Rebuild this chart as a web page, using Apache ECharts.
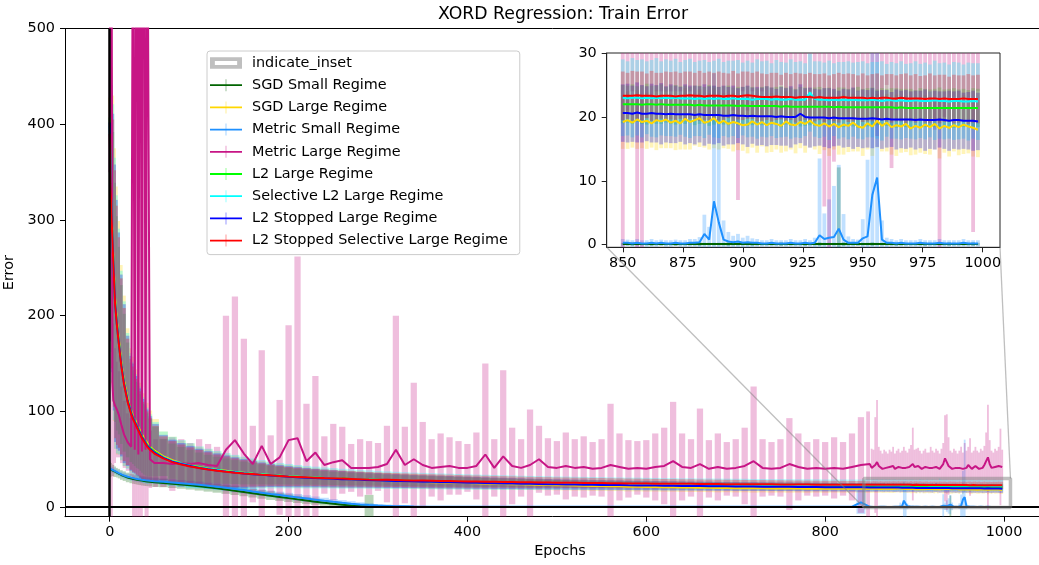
<!DOCTYPE html>
<html>
<head>
<meta charset="utf-8">
<title>XORD Regression: Train Error</title>
<script src="https://cdn.jsdelivr.net/npm/echarts@6/dist/echarts.min.js"></script>
<style>
  html, body { margin: 0; padding: 0; background: #fff; }
  #chart { width: 1039px; height: 565px; }
</style>
</head>
<body>
<div id="chart"></div>
<script>
const FONT = 'DejaVu Sans';

// ---------- x positions (epochs) ----------
const coarseEpochs = [0, 1, 2, 3, 4, 6, 8, 10, 13, 16, 20, 24, 26, 28, 30, 32, 34, 36, 38, 40, 42, 45, 50,
  60, 70, 80, 90, 100, 110, 120, 130, 140, 150,
  160, 170, 180, 190, 200, 210, 220, 230, 240, 250,
  260, 270, 280, 290, 300, 310, 320, 330, 340, 350,
  360, 370, 380, 390, 400, 410, 420, 430, 440, 450,
  460, 470, 480, 490, 500, 510, 520, 530, 540, 550,
  560, 570, 580, 590, 600, 610, 620, 630, 640, 650,
  660, 670, 680, 690, 700, 710, 720, 730, 740, 750,
  760, 770, 780, 790, 800, 810, 820, 830, 840];
const fineEpochs = [850, 852, 854, 856, 858, 860, 862, 864, 866, 868,
  870, 872, 874, 876, 878, 880, 882, 884, 886, 888,
  890, 892, 894, 896, 898, 900, 902, 904, 906, 908,
  910, 912, 914, 916, 918, 920, 922, 924, 926, 928,
  930, 932, 934, 936, 938, 940, 942, 944, 946, 948,
  950, 952, 954, 956, 958, 960, 962, 964, 966, 968,
  970, 972, 974, 976, 978, 980, 982, 984, 986, 988,
  990, 992, 994, 996, 998];
const epochs = coarseEpochs.concat(fineEpochs);

// ---------- ticks / ranges ----------
const mainXTicks = [0, 200, 400, 600, 800, 1000];
const mainYTicks = [0, 100, 200, 300, 400, 500];
const insetXTicks = [850, 875, 900, 925, 950, 975, 1000];
const insetYTicks = [0, 10, 20, 30];
const mainXRange = [-50, 1057];
const mainYRange = [-10, 500];
const insetXRange = [843.3, 1007.2];
const insetYRange = [-0.4, 30];

// ---------- SGD Small Regime ----------
const sgdSmallMean = [40, 39.5, 39, 38.5, 38, 37, 36, 35, 33.6, 32.4, 31, 30, 29.5, 29.1, 28.7, 28.3, 28, 27.7, 27.4, 27.1, 26.9, 26.6, 26.1,
  25.3, 24.5, 23.7, 22.8, 21.8, 20.7, 19.6, 18.4, 17.2, 15.9,
  14.6, 13.3, 12, 10.7, 9.4, 8.1, 6.9, 5.7, 4.5, 3.5,
  2.6, 1.8, 1.2, 0.8, 0.5, 0.3, 0.2, 0.15, 0.1, 0.1,
  0.1, 0.1, 0.1, 0.1, 0.1, 0.1, 0.1, 0.1, 0.1, 0.1,
  0.1, 0.1, 0.1, 0.1, 0.1, 0.1, 0.1, 0.1, 0.1, 0.1,
  0.1, 0.1, 0.1, 0.1, 0.1, 0.1, 0.1, 0.1, 0.1, 0.1,
  0.1, 0.1, 0.1, 0.1, 0.1, 0.1, 0.1, 0.1, 0.1, 0.1,
  0.1, 0.1, 0.1, 0.1, 0.1, 0.1, 0.1, 0.1, 0.1,
  0.1, 0.1, 0.1, 0.1, 0.1, 0.1, 0.1, 0.1, 0.1, 0.1,
  0.1, 0.1, 0.1, 0.1, 0.1, 0.1, 0.1, 0.1, 0.1, 0.1,
  0.1, 0.1, 0.1, 0.1, 0.1, 0.1, 0.1, 0.1, 0.1, 0.1,
  0.1, 0.1, 0.1, 0.1, 0.1, 0.1, 0.1, 0.1, 0.1, 0.1,
  0.1, 0.1, 0.1, 0.1, 0.1, 0.1, 0.1, 0.1, 0.1, 0.1,
  0.1, 0.1, 0.1, 0.1, 0.1, 0.1, 0.1, 0.1, 0.1, 0.1,
  0.1, 0.1, 0.1, 0.1, 0.1, 0.1, 0.1, 0.1, 0.1, 0.1,
  0.1, 0.1, 0.1, 0.1, 0.1];
const sgdSmallErr = [10, 8, 7, 6, 6, 5.5, 5, 5, 5, 5, 5, 5, 5, 5, 5, 5, 5, 5, 5, 5, 5, 5, 5,
  4.5, 4.5, 4.5, 4.5, 4.5, 4.5, 4.5, 4.5, 4.5, 4.5,
  4.5, 4.5, 4.5, 4.2, 4, 3.8, 3.5, 3.2, 3, 2.7,
  2.4, 2, 1.7, 12, 1.2, 0.8, 0.5, 0.4, 0.3, 0.3,
  0.2, 0.2, 0.2, 0.2, 0.2, 0.2, 0.2, 0.2, 0.2, 0.2,
  0.2, 0.2, 0.2, 0.2, 0.2, 0.2, 0.2, 0.2, 0.2, 0.2,
  0.2, 0.2, 0.2, 0.2, 0.2, 0.2, 0.2, 0.2, 0.2, 0.2,
  0.2, 0.2, 0.2, 0.2, 0.2, 0.2, 0.2, 0.2, 0.2, 0.2,
  0.2, 0.2, 0.2, 0.2, 0.2, 0.2, 0.2, 0.2, 0.2,
  0.2, 0.2, 0.3, 0.2, 0.2, 0.2, 0.3, 0.2, 0.2, 0.2,
  0.2, 0.3, 0.2, 0.2, 0.2, 0.2, 0.3, 0.2, 0.2, 0.2,
  0.2, 0.2, 0.3, 0.2, 0.2, 0.2, 0.2, 0.3, 0.2, 0.2,
  0.2, 0.2, 0.2, 0.3, 0.2, 0.2, 0.2, 0.2, 0.3, 0.2,
  0.2, 0.3, 0.2, 0.2, 0.2, 12, 0.3, 0.2, 0.2, 0.2,
  0.2, 0.2, 0.3, 0.2, 0.2, 0.2, 0.2, 0.3, 0.2, 0.2,
  0.2, 0.2, 0.2, 0.3, 0.2, 0.2, 0.2, 0.2, 0.3, 0.2,
  0.2, 0.2, 0.2, 0.3, 0.2];

// ---------- SGD Large Regime ----------
const sgdLargeMean = [428, 345, 310, 285, 260, 218, 195, 177, 151, 132, 114, 101, 96, 92, 88, 84, 80, 76, 73, 70, 67, 63, 59,
  53, 49, 46, 44, 42, 40.4, 39, 37.9, 36.8, 35.9,
  35, 34.2, 33.5, 32.9, 32.2, 31.7, 31.1, 30.6, 30.2, 29.7,
  29.3, 28.9, 28.6, 28.2, 27.9, 27.6, 27.2, 27, 26.7, 26.4,
  26.1, 25.9, 25.6, 25.4, 25.1, 24.9, 24.6, 24.4, 24.2, 24,
  23.8, 23.6, 23.3, 23.2, 22.9, 22.8, 22.5, 22.4, 22.1, 22,
  21.8, 21.7, 21.4, 21.3, 21.1, 21, 20.8, 20.7, 20.5, 20.4,
  20.3, 20.2, 20, 20, 19.8, 19.9, 19.6, 19.7, 19.5, 19.6,
  19.4, 19.5, 19.3, 19.5, 19.2, 19.4, 19.3, 19.5, 19.2,
  19.2, 19.5, 19.1, 19.6, 19.2, 19.4, 19.0, 19.5, 19.3, 19.6,
  19.1, 19.4, 19.0, 19.7, 19.2, 19.5, 19.8, 19.1, 19.3, 19.8,
  19.0, 19.4, 18.9, 19.2, 19.0, 18.7, 18.8, 19.3, 18.8, 19.2,
  18.7, 19.1, 18.9, 18.6, 19.3, 18.8, 18.7, 19.2, 18.9, 19.4,
  18.8, 18.6, 19.0, 18.5, 18.9, 18.4, 18.8, 18.6, 19.1, 18.5,
  18.3, 19.0, 18.5, 19.4, 18.6, 19.1, 18.4, 18.7, 18.5, 18.9,
  18.2, 18.6, 18.3, 18.8, 18.4, 18.9, 18.2, 18.6, 18.3, 18.7,
  18.4, 18.8, 18.5, 18.3, 18.0];
const sgdLargeErr = [170, 180, 180, 175, 170, 157, 140, 122, 102, 89, 73, 65, 61, 58, 56, 53, 50, 48, 46, 44, 42, 38, 33,
  26, 24.5, 23.5, 22.5, 21, 20, 19, 18, 17, 16,
  15, 14, 13, 12.3, 11.8, 11.3, 10.8, 10.4, 10, 9.7,
  9.4, 9.1, 8.8, 8.5, 8.3, 8.1, 7.9, 7.7, 7.5, 7.3,
  7.1, 7, 6.8, 6.7, 6.5, 6.4, 6.3, 6.1, 6, 5.9,
  5.8, 5.7, 5.6, 5.5, 5.4, 5.3, 5.2, 5.1, 5.1, 5,
  5, 4.9, 4.9, 4.8, 4.8, 4.7, 4.7, 4.6, 4.6, 4.6,
  4.5, 4.5, 4.5, 4.4, 4.4, 4.4, 4.4, 4.3, 4.3, 4.3,
  4.3, 4.3, 4.3, 4.3, 4.2, 4.2, 4.2, 4.2, 4.2,
  4.2, 4.5, 3.9, 4.6, 4.1, 4.4, 3.8, 4.7, 4.2, 4.5,
  4.0, 4.6, 4.1, 4.8, 4.3, 4.0, 4.5, 3.9, 4.4, 4.7,
  4.1, 4.3, 3.9, 4.6, 4.2, 4.0, 4.5, 4.1, 4.4, 3.8,
  4.3, 4.6, 4.0, 4.2, 4.7, 3.9, 4.4, 4.1, 4.5, 4.2,
  3.9, 4.4, 4.2, 4.6, 4.0, 4.3, 4.7, 4.1, 4.5, 3.9,
  4.4, 4.1, 4.6, 4.2, 4.0, 4.5, 4.3, 4.8, 4.1, 4.4,
  4.2, 4.5, 3.9, 4.6, 4.3, 4.0, 4.7, 4.2, 4.5, 4.1,
  4.4, 4.6, 4.2, 4.5, 4.3];

// ---------- Metric Small Regime ----------
const metricSmallMean = [40.5, 40, 39.5, 39, 38.5, 37.5, 36.5, 35.5, 34.2, 33, 31.8, 30.8, 30.3, 29.9, 29.5, 29.1, 28.8, 28.5, 28.3, 28, 27.8, 27.5, 27.1,
  26.4, 25.7, 25, 24.2, 23.3, 22.3, 21.3, 20.2, 19, 17.8,
  16.4, 15.1, 13.8, 12.6, 11.4, 10.2, 9, 7.8, 6.6, 5.5,
  4.5, 3.6, 2.8, 2.1, 1.6, 1.3, 1, 0.8, 0.6, 0.5,
  0.4, 0.4, 0.4, 0.35, 0.35, 0.35, 0.3, 0.3, 0.3, 0.3,
  0.3, 0.3, 0.3, 0.3, 0.3, 0.3, 0.3, 0.3, 0.3, 0.3,
  0.3, 0.3, 0.3, 0.3, 0.3, 0.3, 0.3, 0.3, 0.3, 0.3,
  0.3, 0.3, 0.3, 0.3, 0.3, 0.3, 0.3, 0.3, 0.3, 0.3,
  0.3, 0.3, 0.3, 0.3, 0.3, 0.3, 0.3, 0.4, 5,
  0.3, 0.3, 0.2, 0.3, 0.2, 0.2, 0.3, 0.2, 0.3, 0.2,
  0.2, 0.3, 0.2, 0.2, 0.3, 0.3, 0.4, 1.7, 0.8, 6.8,
  3.5, 0.8, 0.5, 0.4, 0.5, 0.3, 0.4, 0.3, 0.3, 0.2,
  0.2, 0.3, 0.2, 0.2, 0.2, 0.3, 0.2, 0.2, 0.3, 0.2,
  0.3, 1.5, 0.9, 1.1, 1.2, 2.5, 0.8, 0.3, 0.3, 0.3,
  1.0, 1.3, 7.8, 10.5, 0.8, 0.3, 0.3, 0.2, 0.3, 0.2,
  0.2, 0.2, 0.3, 0.2, 0.2, 0.2, 0.3, 0.2, 0.2, 0.2,
  0.2, 0.3, 0.2, 0.2, 0.2];
const metricSmallErr = [3, 3, 3, 3, 3, 3, 3, 3, 3, 3, 3, 3, 3, 3, 3, 3, 3, 3, 3, 3, 3, 3, 3,
  3.2, 3.3, 3.4, 3.5, 3.5, 3.5, 3.5, 3.5, 3.5, 3.5,
  3.5, 3.5, 3.5, 3.5, 3.5, 3.5, 3.4, 3.3, 3.2, 3,
  2.8, 2.6, 2.3, 2, 1.7, 1.5, 1.3, 1.1, 1, 0.9,
  0.8, 0.8, 0.7, 0.7, 0.7, 0.6, 0.6, 0.6, 0.6, 0.6,
  0.6, 0.6, 0.6, 0.6, 0.6, 0.6, 0.6, 0.6, 0.6, 0.6,
  0.6, 0.6, 0.6, 0.6, 0.6, 0.6, 0.6, 0.6, 0.6, 0.6,
  0.6, 0.6, 0.6, 0.6, 0.6, 0.6, 0.6, 0.6, 0.6, 0.6,
  0.6, 0.6, 0.6, 0.6, 0.6, 0.6, 0.6, 0.8, 12,
  0.6, 0.5, 0.5, 0.6, 0.5, 0.5, 0.6, 0.5, 0.5, 0.5,
  0.5, 0.5, 0.5, 0.5, 0.6, 0.6, 0.8, 3, 2, 20,
  18, 3, 1.5, 1, 1.2, 0.8, 1, 0.7, 0.6, 0.5,
  0.5, 0.6, 0.5, 0.5, 0.5, 0.6, 0.5, 0.5, 0.6, 0.5,
  0.8, 12, 4, 6, 8, 10, 4, 1, 0.6, 0.5,
  3, 12, 30, 60, 3, 0.8, 0.6, 0.5, 0.6, 0.5,
  0.5, 0.5, 0.6, 0.5, 0.5, 0.5, 0.6, 0.5, 0.5, 0.5,
  0.5, 0.6, 0.5, 0.5, 0.5];

// ---------- Metric Large Regime ----------
const metricLargeMean = [350, 900, 700, 130, 112, 106, 102, 97, 86, 76, 68, 63, 700, 60, 900, 55, 800, 58, 1000, 60, 700, 50, 46,
  46, 45, 46, 45, 46, 44, 43, 60, 70, 56,
  45, 64, 45, 52, 70, 72, 48, 57, 44, 47,
  49, 41, 41, 41, 42, 45, 60, 44, 50, 44,
  41, 42, 43, 41, 41, 43, 55, 41, 53, 43,
  41, 44, 50, 42, 41, 43, 41, 42, 40, 41,
  44, 42, 40, 41, 40, 42, 43, 48, 42, 41,
  45, 40, 42, 40, 41, 43, 48, 41, 40, 41,
  45, 42, 40, 41, 40, 41, 40, 42, 44,
  45, 41, 42, 44, 47, 43, 41, 40, 42, 41,
  40, 42, 41, 43, 40, 41, 42, 40, 41, 43,
  41, 40, 42, 43, 45, 42, 41, 43, 41, 40,
  41, 42, 40, 41, 43, 41, 40, 42, 41, 40,
  42, 45, 51, 47, 43, 41, 40, 42, 41, 40,
  41, 43, 40, 42, 41, 44, 42, 40, 41, 43,
  41, 40, 42, 41, 44, 48, 52, 45, 41, 40,
  42, 41, 43, 42, 42];
const metricLargeErr = [400, 900, 800, 300, 80, 60, 50, 45, 40, 35, 30, 30, 900, 600, 1000, 600, 900, 600, 1000, 600, 800, 30, 25,
  25, 28, 25, 22, 25, 22, 20, 140, 150, 120,
  40, 100, 30, 60, 120, 190, 60, 80, 30, 40,
  35, 25, 30, 28, 25, 40, 140, 40, 80, 45,
  30, 35, 30, 28, 25, 35, 95, 30, 90, 40,
  30, 58, 35, 30, 28, 35, 30, 32, 28, 30,
  64, 35, 30, 28, 30, 35, 40, 62, 35, 30,
  58, 30, 35, 28, 30, 40, 78, 30, 28, 30,
  48, 35, 28, 30, 28, 32, 28, 35, 50,
  55, 20, 18, 50, 65, 20, 18, 16, 18, 17,
  16, 18, 17, 20, 16, 18, 19, 17, 18, 20,
  18, 17, 19, 22, 38, 18, 20, 19, 18, 16,
  18, 19, 17, 16, 20, 18, 17, 19, 18, 16,
  19, 22, 45, 50, 30, 18, 17, 19, 18, 16,
  18, 20, 17, 25, 18, 19, 30, 17, 18, 20,
  18, 17, 19, 18, 20, 30, 55, 25, 18, 17,
  19, 18, 20, 40, 18];

// ---------- L2 Large Regime ----------
const l2LargeMean = [407, 340, 307, 282, 257, 214, 192, 174, 149, 130, 112, 99, 94, 90, 86, 82, 78, 74, 71, 68, 65, 62, 58,
  52, 48, 45.5, 43.5, 41.6, 40, 38.7, 37.6, 36.6, 35.7,
  34.9, 34.2, 33.5, 32.9, 32.3, 31.8, 31.3, 30.9, 30.5, 30.1,
  29.8, 29.4, 29.1, 28.8, 28.5, 28.2, 27.9, 27.7, 27.4, 27.2,
  27, 26.8, 26.6, 26.4, 26.2, 26, 25.8, 25.6, 25.5, 25.3,
  25.2, 25, 24.9, 24.7, 24.6, 24.5, 24.4, 24.3, 24.2, 24.1,
  24, 23.9, 23.8, 23.7, 23.6, 23.5, 23.4, 23.4, 23.3, 23.2,
  23.1, 23.1, 23, 22.9, 22.9, 22.8, 22.8, 22.7, 22.7, 22.6,
  22.6, 22.5, 22.5, 22.4, 22.4, 22.3, 22.2, 22.1, 22.1,
  22.0, 22.0, 22.0, 22.0, 21.9, 22.0, 22.0, 21.9, 22.0, 21.9,
  21.9, 21.9, 21.9, 21.9, 21.9, 21.8, 21.9, 21.8, 21.8, 21.8,
  21.8, 21.8, 21.8, 21.8, 21.7, 21.8, 21.7, 21.7, 21.7, 21.7,
  21.7, 21.7, 21.7, 21.6, 21.7, 21.6, 21.6, 21.6, 21.6, 21.6,
  21.6, 21.6, 21.6, 21.6, 21.5, 21.6, 21.5, 21.5, 21.5, 21.5,
  21.5, 21.5, 21.5, 21.5, 21.5, 21.5, 21.5, 21.4, 21.5, 21.4,
  21.4, 21.4, 21.4, 21.4, 21.4, 21.4, 21.4, 21.4, 21.4, 21.4,
  21.4, 21.4, 21.4, 21.4, 21.4];
const l2LargeErr = [135, 145, 145, 140, 135, 125, 112, 98, 83, 72, 60, 52, 49, 47, 45, 42, 40, 38, 37, 35, 33, 30, 26,
  19.5, 18.5, 17.5, 16.5, 15.5, 14.7, 14, 13.3, 12.6, 12,
  11.2, 10.5, 9.8, 9.2, 8.7, 8.2, 7.8, 7.5, 7.2, 7,
  6.8, 6.6, 6.4, 6.2, 6, 5.8, 5.7, 5.6, 5.5, 5.4,
  5.3, 5.2, 5.1, 5, 4.9, 4.8, 4.7, 4.6, 4.5, 4.4,
  4.3, 4.2, 4.1, 4, 3.9, 3.9, 3.8, 3.8, 3.7, 3.7,
  3.6, 3.6, 3.5, 3.5, 3.4, 3.4, 3.3, 3.3, 3.3, 3.2,
  3.2, 3.2, 3.1, 3.1, 3.1, 3, 3, 3, 3, 3,
  3, 3, 3, 2.9, 2.9, 2.9, 2.9, 2.9, 2.9,
  3.0, 2.9, 3.1, 2.8, 3.0, 3.2, 2.9, 3.0, 3.1, 2.8,
  3.0, 3.1, 2.9, 3.0, 2.8, 3.1, 3.0, 2.9, 3.2, 3.0,
  2.9, 3.0, 3.1, 2.8, 3.0, 2.9, 3.1, 3.0, 2.8, 3.0,
  3.1, 2.9, 3.0, 3.2, 2.9, 3.0, 2.8, 3.1, 3.0, 2.9,
  3.0, 3.1, 2.9, 3.0, 2.8, 3.0, 3.1, 2.9, 3.0, 3.2,
  2.9, 3.0, 3.1, 2.8, 3.0, 2.9, 3.0, 3.1, 2.9, 3.0,
  3.0, 2.8, 3.1, 3.0, 2.9, 3.0, 3.2, 2.9, 3.0, 3.1,
  2.9, 3.0, 2.8, 3.1, 3.0];

// ---------- Selective L2 Large Regime ----------
const selL2Mean = [398, 337, 306, 281, 256, 213, 191, 173, 148, 129, 111, 98, 93, 89, 85, 81, 77, 73, 70, 67, 64, 61, 57,
  52, 48, 45.5, 43.3, 41.5, 40, 38.7, 37.6, 36.6, 35.7,
  34.9, 34.2, 33.5, 32.9, 32.3, 31.8, 31.3, 30.9, 30.5, 30.1,
  29.7, 29.4, 29.1, 28.8, 28.5, 28.2, 27.9, 27.7, 27.5, 27.3,
  27.1, 26.9, 26.7, 26.5, 26.3, 26.1, 26, 25.8, 25.7, 25.6,
  25.4, 25.3, 25.2, 25.1, 25, 24.9, 24.8, 24.7, 24.6, 24.5,
  24.4, 24.3, 24.2, 24.2, 24.1, 24, 23.9, 23.9, 23.8, 23.8,
  23.7, 23.7, 23.6, 23.6, 23.5, 23.5, 23.4, 23.4, 23.3, 23.3,
  23.3, 23.2, 23.2, 23.2, 23.1, 23.1, 23.1, 23, 23,
  23.0, 22.9, 23.0, 23.0, 22.9, 23.0, 22.9, 23.0, 22.9, 23.0,
  22.9, 23.0, 22.9, 22.9, 22.9, 22.8, 22.9, 22.8, 22.9, 22.8,
  22.9, 22.8, 22.8, 22.9, 22.8, 22.8, 22.8, 22.7, 22.8, 22.8,
  22.8, 22.7, 22.8, 22.7, 22.7, 22.8, 22.7, 22.7, 22.7, 23.8,
  22.8, 22.7, 22.7, 22.6, 22.7, 22.6, 22.7, 22.6, 22.7, 22.6,
  22.6, 22.6, 22.7, 22.6, 22.5, 22.6, 22.6, 22.5, 22.6, 22.5,
  22.5, 22.6, 22.5, 22.5, 22.5, 22.6, 22.5, 22.5, 22.4, 22.5,
  22.5, 22.4, 22.4, 22.5, 22.4];
const selL2Err = [165, 175, 175, 170, 165, 152, 135, 118, 99, 86, 71, 63, 59, 56, 54, 51, 49, 47, 45, 42, 40, 36, 32,
  27, 25.5, 24.5, 23.5, 22, 21, 20, 19, 18, 17,
  16, 15, 14, 13.3, 12.8, 12.2, 11.8, 11.4, 11, 10.7,
  10.4, 10.1, 9.8, 9.6, 9.4, 9.2, 9, 8.8, 8.6, 8.5,
  8.4, 8.3, 8.2, 8.1, 8, 7.9, 7.8, 7.7, 7.6, 7.5,
  7.4, 7.3, 7.2, 7.1, 7, 7, 6.9, 6.9, 6.8, 6.8,
  6.7, 6.7, 6.6, 6.6, 6.5, 6.5, 6.4, 6.4, 6.3, 6.3,
  6.2, 6.2, 6.2, 6.1, 6.1, 6.1, 6, 6, 6, 6,
  5.9, 5.9, 5.9, 5.9, 5.8, 5.8, 5.8, 5.8, 5.8,
  6.0, 5.8, 6.2, 5.9, 6.1, 5.7, 6.0, 6.2, 5.8, 6.0,
  5.9, 6.1, 5.7, 6.0, 6.2, 5.8, 5.9, 6.1, 5.7, 6.0,
  6.2, 5.8, 6.0, 5.9, 6.1, 5.7, 6.0, 5.8, 6.2, 5.9,
  6.0, 5.7, 6.1, 5.9, 5.8, 6.2, 5.9, 6.0, 5.7, 6.1,
  5.9, 6.0, 5.8, 6.2, 5.7, 6.0, 5.9, 6.1, 5.8, 6.0,
  6.1, 5.8, 5.9, 6.0, 6.2, 5.7, 6.0, 5.9, 6.1, 5.8,
  5.9, 6.1, 5.8, 6.0, 5.7, 6.2, 5.9, 6.0, 5.8, 6.1,
  6.0, 5.8, 6.1, 5.9, 6.0];

// ---------- L2 Stopped Large Regime ----------
const l2StopMean = [402, 338, 306, 281, 256, 213, 191, 173, 148, 129, 111, 98, 93, 89, 85, 81, 77, 73, 70, 67, 64, 61, 57,
  51.5, 47.5, 45, 43, 41, 39.5, 38.2, 37.1, 36.1, 35.2,
  34.4, 33.7, 33, 32.4, 31.8, 31.3, 30.8, 30.4, 30, 29.6,
  29.2, 28.8, 28.5, 28.2, 27.9, 27.6, 27.3, 27.1, 26.8, 26.6,
  26.4, 26.2, 26, 25.8, 25.6, 25.4, 25.2, 25, 24.8, 24.7,
  24.5, 24.3, 24.2, 24, 23.9, 23.7, 23.6, 23.5, 23.3, 23.2,
  23.1, 23, 22.8, 22.7, 22.6, 22.5, 22.4, 22.3, 22.2, 22.1,
  22, 21.9, 21.8, 21.7, 21.6, 21.5, 21.5, 21.4, 21.3, 21.2,
  21.2, 21.1, 21, 21, 20.9, 20.8, 20.8, 20.7, 20.7,
  20.6, 20.6, 20.5, 20.7, 20.5, 20.5, 20.6, 20.5, 20.5, 20.4,
  20.5, 20.4, 20.4, 20.4, 20.4, 20.3, 20.4, 20.3, 20.3, 20.3,
  20.3, 20.2, 20.2, 20.3, 20.2, 20.2, 20.1, 20.2, 20.1, 20.1,
  20.1, 20.1, 20.0, 20.1, 20.0, 20.0, 20.0, 20.5, 20.0, 19.9,
  19.9, 19.9, 19.9, 19.8, 19.9, 19.8, 19.8, 19.8, 19.8, 19.7,
  19.7, 19.7, 19.8, 19.7, 19.6, 19.7, 19.6, 19.6, 19.6, 19.6,
  19.6, 19.5, 19.6, 19.5, 19.5, 19.5, 19.6, 19.5, 19.4, 19.5,
  19.5, 19.4, 19.4, 19.4, 19.3];
const l2StopErr = [155, 165, 165, 160, 155, 145, 130, 114, 95, 83, 68, 60, 57, 54, 52, 49, 47, 45, 43, 40, 38, 34, 30,
  24, 23, 22, 21, 20, 19, 18, 17, 16, 15,
  14, 13, 12, 11.5, 11, 10.5, 10, 9.6, 9.3, 9,
  8.7, 8.4, 8.1, 7.9, 7.7, 7.5, 7.3, 7.1, 6.9, 6.8,
  6.7, 6.6, 6.5, 6.4, 6.3, 6.2, 6.1, 6, 5.9, 5.8,
  5.7, 5.6, 5.5, 5.4, 5.3, 5.3, 5.2, 5.2, 5.1, 5.1,
  5, 5, 4.9, 4.9, 4.9, 4.8, 4.8, 4.8, 4.7, 4.7,
  4.7, 4.7, 4.6, 4.6, 4.6, 4.6, 4.6, 4.5, 4.5, 4.5,
  4.5, 4.5, 4.5, 4.5, 4.5, 4.5, 4.5, 4.5, 4.5,
  4.5, 4.6, 4.4, 4.7, 4.5, 4.3, 4.6, 4.5, 4.8, 4.4,
  4.6, 4.5, 4.3, 4.7, 4.5, 4.6, 4.4, 4.8, 4.5, 4.6,
  4.4, 4.7, 4.5, 4.6, 4.3, 4.5, 4.8, 4.4, 4.6, 4.5,
  4.7, 4.5, 4.4, 4.6, 4.5, 4.8, 4.3, 4.6, 4.5, 4.7,
  4.5, 4.4, 4.6, 4.7, 4.5, 4.3, 4.6, 4.5, 4.8, 4.4,
  4.6, 4.5, 4.7, 4.4, 4.6, 4.5, 4.3, 4.7, 4.5, 4.6,
  4.4, 4.6, 4.5, 4.8, 4.5, 4.6, 4.4, 4.5, 4.7, 4.5,
  4.6, 4.4, 4.5, 4.7, 4.5];

// ---------- L2 Stopped Selective Large Regime ----------
const l2StopSelMean = [390, 335, 305, 280, 255, 212, 190, 172, 147, 128, 110, 97, 92, 88, 84, 80, 76, 72, 69, 66, 63, 60, 56,
  51, 47, 44.5, 42.5, 40.8, 39.3, 38, 37, 36, 35.2,
  34.5, 33.8, 33.2, 32.6, 32, 31.6, 31.2, 30.8, 30.4, 30.1,
  29.8, 29.5, 29.2, 28.9, 28.7, 28.5, 28.3, 28.1, 27.9, 27.7,
  27.5, 27.3, 27.2, 27, 26.8, 26.7, 26.5, 26.4, 26.3, 26.2,
  26, 25.9, 25.8, 25.7, 25.6, 25.5, 25.4, 25.3, 25.2, 25.1,
  25, 24.9, 24.8, 24.7, 24.6, 24.5, 24.5, 24.4, 24.3, 24.3,
  24.2, 24.1, 24.1, 24, 24, 23.9, 23.9, 23.8, 23.8, 23.7,
  23.7, 23.6, 23.6, 23.5, 23.5, 23.5, 23.4, 23.4, 23.4,
  23.3, 23.3, 23.3, 23.4, 23.3, 23.3, 23.3, 23.2, 23.3, 23.3,
  23.3, 23.2, 23.3, 23.3, 23.4, 23.3, 23.3, 23.2, 23.3, 23.3,
  23.3, 23.2, 23.3, 23.3, 23.2, 23.3, 23.4, 23.3, 23.2, 23.1,
  23.1, 23.1, 23.2, 23.1, 23.1, 23.1, 23.0, 23.1, 23.1, 23.1,
  23.0, 23.1, 23.0, 23.0, 23.0, 23.0, 23.1, 23.0, 23.0, 23.0,
  23.0, 22.9, 23.0, 22.9, 23.0, 23.0, 22.9, 22.9, 23.0, 22.9,
  22.9, 22.9, 22.9, 22.8, 22.9, 22.9, 22.8, 22.9, 22.8, 22.8,
  22.8, 22.9, 22.8, 22.8, 22.8];
const l2StopSelErr = [150, 160, 160, 155, 150, 140, 125, 110, 92, 80, 66, 58, 55, 52, 50, 47, 45, 43, 41, 39, 37, 33, 29,
  23, 22, 21, 20, 19, 18, 17, 16, 15, 14,
  13, 12, 11, 10.5, 10, 9.5, 9, 8.8, 8.6, 8.4,
  8.2, 8, 7.8, 7.6, 7.5, 7.4, 7.3, 7.2, 7.1, 7,
  6.9, 6.8, 6.7, 6.6, 6.5, 6.4, 6.3, 6.2, 6.1, 6,
  5.9, 5.8, 5.7, 5.6, 5.5, 5.5, 5.4, 5.4, 5.3, 5.3,
  5.2, 5.2, 5.1, 5.1, 5, 5, 4.9, 4.9, 4.8, 4.8,
  4.7, 4.7, 4.6, 4.6, 4.5, 4.5, 4.4, 4.4, 4.3, 4.3,
  4.2, 4.2, 4.1, 4.1, 4, 4, 4, 3.9, 3.9,
  3.8, 3.6, 3.9, 3.7, 3.8, 3.5, 3.9, 3.7, 3.6, 3.8,
  3.7, 3.9, 3.6, 3.8, 3.7, 3.6, 3.9, 3.7, 3.8, 3.6,
  3.8, 3.7, 3.5, 3.9, 3.6, 3.8, 3.7, 3.6, 3.9, 3.7,
  3.6, 3.8, 3.7, 3.5, 3.8, 3.6, 3.9, 3.7, 3.6, 3.8,
  3.7, 3.6, 3.8, 3.5, 3.7, 3.9, 3.6, 3.8, 3.7, 3.5,
  3.8, 3.6, 3.7, 3.9, 3.5, 3.7, 3.8, 3.6, 3.7, 3.9,
  3.6, 3.8, 3.5, 3.7, 3.9, 3.6, 3.8, 3.7, 3.5, 3.8,
  3.7, 3.6, 3.9, 3.7, 3.8];

const runs = [
  { name: 'SGD Small Regime', color: '#006400', rgb: '0,100,0', mean: sgdSmallMean, err: sgdSmallErr, barWidth: 1 },
  { name: 'SGD Large Regime', color: '#FFD700', rgb: '255,215,0', mean: sgdLargeMean, err: sgdLargeErr, barWidth: 1 },
  { name: 'Metric Small Regime', color: '#1E90FF', rgb: '30,144,255', mean: metricSmallMean, err: metricSmallErr, barWidth: 1 },
  { name: 'Metric Large Regime', color: '#C71585', rgb: '199,21,133', mean: metricLargeMean, err: metricLargeErr, barWidth: 0.7 },
  { name: 'L2 Large Regime', color: '#00FF00', rgb: '0,255,0', mean: l2LargeMean, err: l2LargeErr, barWidth: 1 },
  { name: 'Selective L2 Large Regime', color: '#00FFFF', rgb: '0,255,255', mean: selL2Mean, err: selL2Err, barWidth: 1 },
  { name: 'L2 Stopped Large Regime', color: '#0000FF', rgb: '0,0,255', mean: l2StopMean, err: l2StopErr, barWidth: 1 },
  { name: 'L2 Stopped Selective Large Regime', color: '#FF0000', rgb: '255,0,0', mean: l2StopSelMean, err: l2StopSelErr, barWidth: 1 }
];

runs.forEach(r => {
  if (r.mean.length !== epochs.length || r.err.length !== epochs.length) {
    throw new Error(r.name + ' length ' + r.mean.length + '/' + r.err.length + ' vs ' + epochs.length);
  }
});

const nCoarse = coarseEpochs.length;

function lineData(ep, mean) {
  return ep.map((x, i) => [x, mean[i]]);
}

// each bar: [epoch, low, high, left edge, right edge]
function barData(ep, mean, err) {
  return ep.map((x, i) => {
    const prev = i > 0 ? ep[i - 1] : x - (ep[1] - ep[0]);
    const next = i < ep.length - 1 ? ep[i + 1] : x + (x - ep[i - 1]);
    return [x, mean[i] - err[i], mean[i] + err[i], (prev + x) / 2, (x + next) / 2];
  });
}

function barRenderer(gap, widthFactor) {
  return function (params, api) {
    const p0 = api.coord([api.value(3), api.value(2)]);
    const p1 = api.coord([api.value(4), api.value(1)]);
    let x = p0[0];
    let w = p1[0] - p0[0];
    if (w > 4) {
      const nw = Math.max(2, w * widthFactor - gap);
      x += (w - nw) / 2;
      w = nw;
    }
    const rect = echarts.graphic.clipRectByRect(
      { x: x, y: p0[1], width: w, height: p1[1] - p0[1] },
      params.coordSys
    );
    return rect && { type: 'rect', shape: rect, style: { fill: api.visual('color') } };
  };
}

const series = [];

// indicate_inset rectangle on the main axes, plus the black zero lines
series.push({
  name: 'indicate_inset',
  type: 'line',
  xAxisIndex: 0, yAxisIndex: 0,
  data: [[insetXRange[0], insetYRange[0]], [insetXRange[0], insetYRange[1]],
         [insetXRange[1], insetYRange[1]], [insetXRange[1], insetYRange[0]],
         [insetXRange[0], insetYRange[0]]],
  symbol: 'none',
  silent: true,
  z: 5,
  lineStyle: { color: 'rgba(128,128,128,0.5)', width: 3.5 },
  itemStyle: { color: 'rgba(128,128,128,0.5)' },
  markLine: {
    silent: true,
    symbol: 'none',
    label: { show: false },
    data: [
      { xAxis: 0, lineStyle: { color: '#000', width: 2.5, type: 'solid' } },
      { yAxis: 0, lineStyle: { color: '#000', width: 2, type: 'solid' } }
    ]
  }
});

// mean lines, main
runs.forEach(r => {
  series.push({
    name: r.name, type: 'line', xAxisIndex: 0, yAxisIndex: 0,
    data: lineData(epochs, r.mean),
    symbol: 'none', showSymbol: false, z: 3, silent: true,
    lineStyle: { color: r.color, width: 2 },
    itemStyle: { color: r.color }
  });
});

// mean lines, inset
const insetLineStart = series.length;
runs.forEach(r => {
  series.push({
    name: r.name, type: 'line', xAxisIndex: 2, yAxisIndex: 1,
    data: lineData(fineEpochs, r.mean.slice(nCoarse)),
    symbol: 'none', showSymbol: false, z: 3, silent: true,
    lineStyle: { color: r.color, width: 2 },
    itemStyle: { color: r.color }
  });
});

// error bars, main and inset
runs.forEach(r => {
  series.push({
    name: r.name, type: 'custom', xAxisIndex: 0, yAxisIndex: 0,
    data: barData(epochs, r.mean, r.err),
    renderItem: barRenderer(0, r.barWidth), z: 1, silent: true,
    itemStyle: { color: 'rgba(' + r.rgb + ',0.28)' }
  });
  series.push({
    name: r.name, type: 'custom', xAxisIndex: 2, yAxisIndex: 1,
    data: barData(fineEpochs, r.mean.slice(nCoarse), r.err.slice(nCoarse)),
    renderItem: barRenderer(1, 1), z: 1, silent: true,
    itemStyle: { color: 'rgba(' + r.rgb + ',0.28)' }
  });
});

const tickText = { fontSize: 14.4, color: '#000', fontFamily: FONT };
const plainNumber = v => String(v);
const legendLineIcon = 'path://M0,5.1H32V6.9H0Z M15.8,0H16.2V12H15.8Z';

const option = {
  animation: false,
  backgroundColor: '#fff',
  title: {
    text: 'XORD Regression: Train Error',
    left: 558, top: 1, textAlign: 'center',
    textStyle: { fontSize: 17.3, fontWeight: 'normal', color: '#000', fontFamily: FONT }
  },
  legend: {
    orient: 'vertical',
    left: 207, top: 51,
    padding: [5, 12, 7, 3],
    itemGap: 8.2,
    itemWidth: 32, itemHeight: 12,
    backgroundColor: 'rgba(255,255,255,0.8)',
    borderColor: '#cccccc', borderWidth: 1, borderRadius: 3,
    selectedMode: false,
    textStyle: { fontSize: 14.4, color: '#000', fontFamily: FONT, padding: [0, 0, 0, 5] },
    data: [
      { name: 'indicate_inset', icon: 'path://M0,0H33V12H0Z M5,4V8H28V4Z',
        itemStyle: { color: '#bfbfbf', borderWidth: 0 }, lineStyle: { width: 0 } }
    ].concat(runs.map(r => ({
      name: r.name, icon: legendLineIcon,
      itemStyle: { color: r.color, borderWidth: 0 }, lineStyle: { width: 0 }
    })))
  },
  grid: [
    { left: 65, top: 28.6, width: 990, height: 488.1, outerBoundsMode: 'none', containLabel: false },
    { left: 606.7, top: 53, width: 393.3, height: 194.3, outerBoundsMode: 'none', containLabel: false,
      show: true, backgroundColor: '#fff', borderColor: '#222', borderWidth: 1 }
  ],
  xAxis: [
    { gridIndex: 0, type: 'value', position: 'bottom', min: mainXRange[0], max: mainXRange[1],
      name: 'Epochs', nameLocation: 'middle', nameGap: 28, nameTextStyle: tickText,
      axisLine: { show: true, onZero: false, lineStyle: { color: '#000', width: 1 } },
      axisTick: { show: true, length: 5, customValues: mainXTicks, lineStyle: { color: '#000' } },
      axisLabel: { show: true, customValues: mainXTicks, margin: 9, formatter: plainNumber, ...tickText },
      splitLine: { show: false } },
    { gridIndex: 0, type: 'value', position: 'top', min: mainXRange[0], max: mainXRange[1],
      axisLine: { show: true, onZero: false, lineStyle: { color: '#000', width: 1 } },
      axisTick: { show: false }, axisLabel: { show: false }, splitLine: { show: false } },
    { gridIndex: 1, type: 'value', position: 'bottom', min: insetXRange[0], max: insetXRange[1],
      axisLine: { show: true, onZero: false, lineStyle: { color: '#222', width: 1 } },
      axisTick: { show: true, length: 5, customValues: insetXTicks, lineStyle: { color: '#222' } },
      axisLabel: { show: true, customValues: insetXTicks, margin: 9, formatter: plainNumber, ...tickText },
      splitLine: { show: false } }
  ],
  yAxis: [
    { gridIndex: 0, type: 'value', min: mainYRange[0], max: mainYRange[1],
      name: 'Error', nameLocation: 'middle', nameGap: 33, nameTextStyle: tickText,
      axisLine: { show: true, onZero: false, lineStyle: { color: '#000', width: 1 } },
      axisTick: { show: true, length: 5, customValues: mainYTicks, lineStyle: { color: '#000' } },
      axisLabel: { show: true, customValues: mainYTicks, margin: 10, formatter: plainNumber, ...tickText },
      splitLine: { show: false } },
    { gridIndex: 1, type: 'value', min: insetYRange[0], max: insetYRange[1],
      axisLine: { show: true, onZero: false, lineStyle: { color: '#222', width: 1 } },
      axisTick: { show: true, length: 5, customValues: insetYTicks, lineStyle: { color: '#222' } },
      axisLabel: { show: true, customValues: insetYTicks, margin: 10, formatter: plainNumber, ...tickText },
      splitLine: { show: false } }
  ],
  series: series
};

const chart = echarts.init(document.getElementById('chart'));
chart.setOption(option);

// connector lines between the inset and its rectangle on the main axes
const insetLowLeft = chart.convertToPixel({ seriesIndex: insetLineStart }, [insetXRange[0], insetYRange[0]]);
const insetLowRight = chart.convertToPixel({ seriesIndex: insetLineStart }, [insetXRange[1], insetYRange[0]]);
const rectLowLeft = chart.convertToPixel({ seriesIndex: 0 }, [insetXRange[0], insetYRange[0]]);
const rectTopRight = chart.convertToPixel({ seriesIndex: 0 }, [insetXRange[1], insetYRange[1]]);
const connStyle = { stroke: 'rgba(128,128,128,0.5)', lineWidth: 1.3 };
chart.setOption({
  graphic: [
    { type: 'line', z: 50, silent: true, style: connStyle,
      shape: { x1: insetLowLeft[0], y1: insetLowLeft[1], x2: rectLowLeft[0], y2: rectLowLeft[1] } },
    { type: 'line', z: 50, silent: true, style: connStyle,
      shape: { x1: insetLowRight[0], y1: insetLowRight[1], x2: rectTopRight[0], y2: rectTopRight[1] } }
  ]
});

window.addEventListener('resize', function () {
  chart.resize();
});
</script>
</body>
</html>
